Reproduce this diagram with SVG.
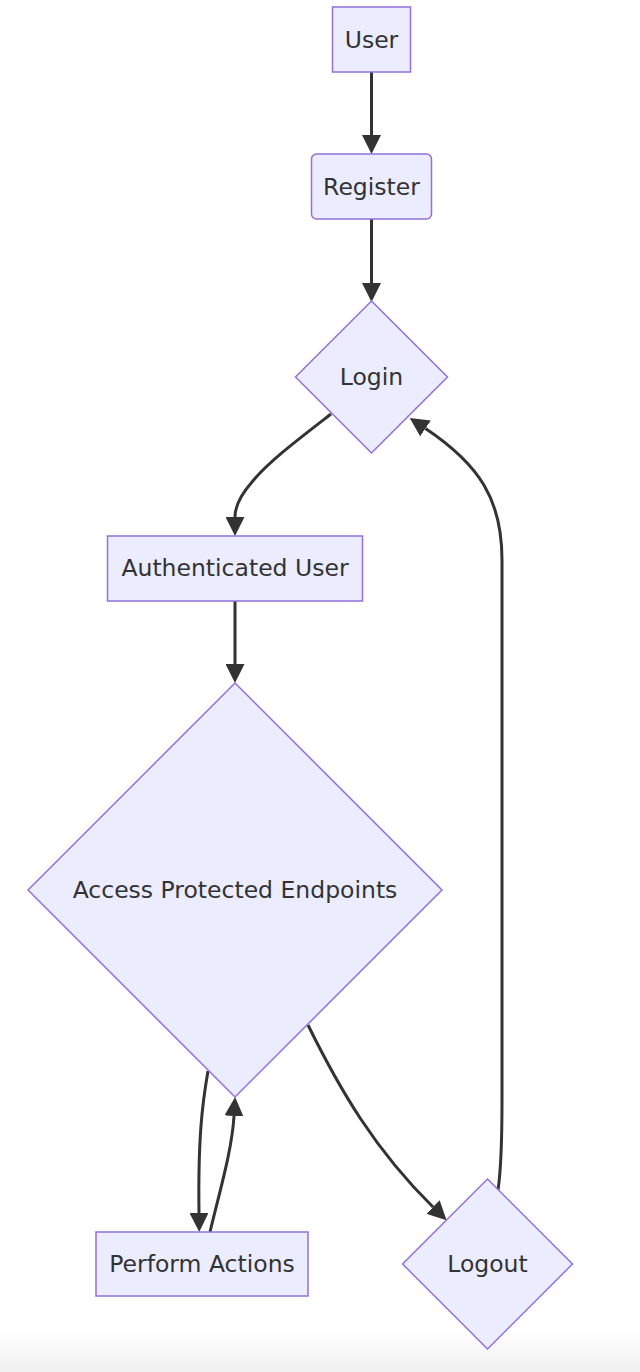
<svg xmlns="http://www.w3.org/2000/svg" width="640" height="1372" viewBox="0 0 640 1372">
<style>
.node{fill:#ECECFF;stroke:#9370DB;stroke-width:1.5}
.lbl{font-family:"DejaVu Sans","Liberation Sans",sans-serif;font-size:23.5px;fill:#333;text-anchor:middle;dominant-baseline:central}
.edge{fill:none;stroke:#333;stroke-width:3}
</style>
<defs>
<marker id="arrow" viewBox="0 0 10 10" refX="0" refY="5" markerUnits="userSpaceOnUse" markerWidth="19" markerHeight="19" orient="auto">
<path d="M0,0 L10,5 L0,10 z" fill="#333"/>
</marker>
<linearGradient id="bg" x1="0" y1="0" x2="0" y2="1">
<stop offset="0" stop-color="#ffffff"/>
<stop offset="1" stop-color="#f0f0f0"/>
</linearGradient>
</defs>
<rect x="0" y="0" width="640" height="1372" fill="#ffffff"/>
<rect x="0" y="1330" width="640" height="42" fill="url(#bg)"/>
<g id="edges">
<path class="edge" marker-end="url(#arrow)" d="M371.5,72 L371.5,135"/>
<path class="edge" marker-end="url(#arrow)" d="M371.5,219 L371.5,283"/>
<path class="edge" marker-end="url(#arrow)" d="M331,414 C300,438 268,462 252,482 C238,498 235,508 235,517"/>
<path class="edge" marker-end="url(#arrow)" d="M235,601 L235,664"/>
<path class="edge" marker-end="url(#arrow)" d="M208,1071 C202,1105 198,1140 199,1213"/>
<path class="edge" marker-end="url(#arrow)" d="M210,1232 C220,1190 232,1150 234,1116"/>
<path class="edge" marker-end="url(#arrow)" d="M308,1025 C340,1090 375,1150 433,1207"/>
<path class="edge" marker-end="url(#arrow)" d="M498,1190 C501,1170 502,1150 502,1100 L502,560 C502,500 480,465 425.5,428.5"/>
</g>
<g id="user">
<rect class="node" x="332.5" y="7" width="78" height="65"/>
<text class="lbl" x="371.5" y="40">User</text>
</g>
<g id="register">
<rect class="node" x="311.5" y="154" width="120" height="65" rx="5" ry="5"/>
<text class="lbl" x="371.5" y="187">Register</text>
</g>
<g id="login">
<polygon class="node" points="371.5,301 447.5,377 371.5,453 295.5,377"/>
<text class="lbl" x="371.5" y="377">Login</text>
</g>
<g id="authenticated">
<rect class="node" x="107.5" y="536" width="255" height="65"/>
<text class="lbl" x="235" y="568">Authenticated User</text>
</g>
<g id="access">
<polygon class="node" points="235,683 442,890 235,1097 28,890"/>
<text class="lbl" x="235" y="890">Access Protected Endpoints</text>
</g>
<g id="perform">
<rect class="node" x="96" y="1232" width="212" height="64"/>
<text class="lbl" x="202" y="1264">Perform Actions</text>
</g>
<g id="logout">
<polygon class="node" points="487.5,1179 572.5,1264 487.5,1349 402.5,1264"/>
<text class="lbl" x="487.5" y="1264">Logout</text>
</g>
</svg>
